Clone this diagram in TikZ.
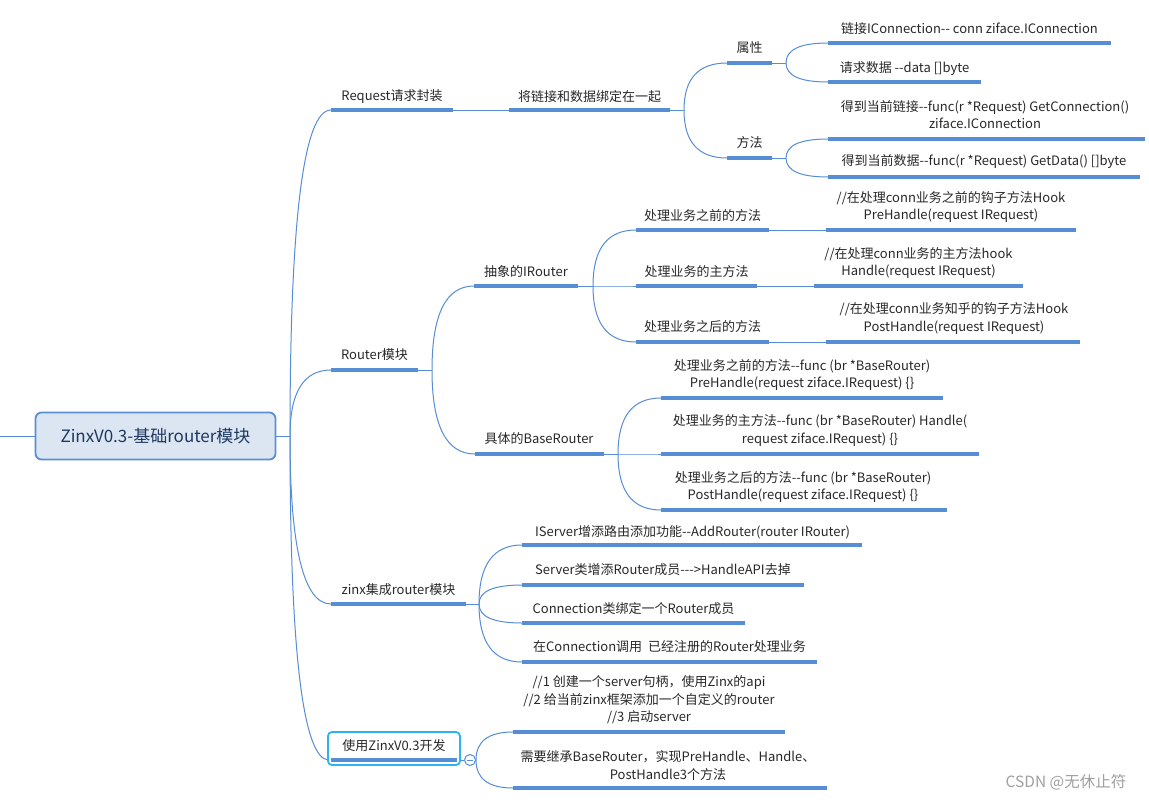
\documentclass[tikz,border=0pt]{standalone}
\usepackage{fontspec}
\setmainfont{Noto Sans CJK SC}
\usetikzlibrary{calc}
\definecolor{ln}{RGB}{86,141,213}
\definecolor{txt}{RGB}{40,40,40}
\definecolor{rootfill}{RGB}{220,230,242}
\definecolor{rootdraw}{RGB}{90,142,212}
\definecolor{roottxt}{RGB}{30,56,96}
\definecolor{selc}{RGB}{45,178,245}
\definecolor{wm}{RGB}{160,160,160}
\begin{document}
\begin{tikzpicture}[x=1pt,y=-1pt,
  ul/.style={line width=3.5pt, draw=ln},
  thinln/.style={line width=1pt, draw=ln},
  curve/.style={thinln, to path={.. controls ($(\tikztostart)!0.6667!(\tikztostart|-\tikztotarget)$) and ($(\tikztotarget)!0.6667!(\tikztostart|-\tikztotarget)$) .. (\tikztotarget)}},
  lab/.style={inner sep=0pt, text=txt, font=\fontsize{13}{17.5}\selectfont, align=center},
]
\fill[white] (0,0) rectangle (1149,801);
\useasboundingbox (0,0) rectangle (1149,801);

% ---------- root ----------
\node[draw=rootdraw, line width=1.8pt, fill=rootfill, rounded corners=6pt,
      minimum width=240pt, minimum height=47pt, text=roottxt,
      font=\fontsize{17}{20}\selectfont] (root) at (155.5,436) {ZinxV0.3-基础router模块};
\coordinate (lft) at (0,436);
\coordinate (b0) at (290,436);
\draw[thinln] (lft) -- (root.west);
\draw[thinln] (root.east) -- (b0);

% ---------- coordinates ----------
% A branch
\coordinate (A1a) at (331,110);  \coordinate (A1b) at (453,110);
\coordinate (A2a) at (509,110);  \coordinate (A2b) at (670,110);
\coordinate (bA) at (684,110);
\coordinate (P1a) at (727,63);   \coordinate (P1b) at (772,63);
\coordinate (P2a) at (727,158);  \coordinate (P2b) at (772,158);
\coordinate (bP1) at (786,63);
\coordinate (bP2) at (786,158);
\coordinate (Q1a) at (828,43);   \coordinate (Q1b) at (1111,43);
\coordinate (Q2a) at (828,82);   \coordinate (Q2b) at (981,82);
\coordinate (Q3a) at (828,139);  \coordinate (Q3b) at (1145,139);
\coordinate (Q4a) at (828,177);  \coordinate (Q4b) at (1140,177);
% B branch
\coordinate (B1a) at (331,370);  \coordinate (B1b) at (418,370);
\coordinate (bB) at (432,370);
\coordinate (R1a) at (474,286);  \coordinate (R1b) at (578,286);
\coordinate (R2a) at (475,454);  \coordinate (R2b) at (604,454);
\coordinate (bR1) at (593,286);
\coordinate (bR2) at (618,454);
\coordinate (S1a) at (636,230);  \coordinate (S1b) at (769,230);
\coordinate (S2a) at (636,286);  \coordinate (S2b) at (757,286);
\coordinate (S3a) at (636,342);  \coordinate (S3b) at (769,342);
\coordinate (T1a) at (826,230);  \coordinate (T1b) at (1076,230);
\coordinate (T2a) at (814,286);  \coordinate (T2b) at (1023,286);
\coordinate (T3a) at (826,342);  \coordinate (T3b) at (1080,342);
\coordinate (U1a) at (661,398);  \coordinate (U1b) at (943,398);
\coordinate (U2a) at (661,454);  \coordinate (U2b) at (979,454);
\coordinate (U3a) at (661,510);  \coordinate (U3b) at (947,510);
% C branch
\coordinate (C1a) at (331,604);  \coordinate (C1b) at (466,604);
\coordinate (bC) at (479,604);
\coordinate (V1a) at (522,545);  \coordinate (V1b) at (862,545);
\coordinate (V2a) at (522,585);  \coordinate (V2b) at (804,585);
\coordinate (V3a) at (522,623);  \coordinate (V3b) at (745,623);
\coordinate (V4a) at (522,662);  \coordinate (V4b) at (817,662);
% D branch
\coordinate (D1a) at (331,760);  \coordinate (D1b) at (457,760);
\coordinate (W1a) at (513,732);  \coordinate (W1b) at (785,732);
\coordinate (W2a) at (513,788);  \coordinate (W2b) at (827,788);

% ---------- root branches ----------
\draw[curve] (b0) to (A1a);
\draw[curve] (b0) to (B1a);
\draw[curve] (b0) to (C1a);
\draw[curve] (b0) to ($(D1a)+(-2,0)$);

% ---------- A: Request ----------
\draw[thinln] (A1b) -- (A2a);
\draw[thinln] (A2b) -- (bA);
\draw[curve] (bA) to (P1a);
\draw[curve] (bA) to (P2a);
\draw[thinln] (P1b) -- (bP1);
\draw[thinln] (P2b) -- (bP2);
\draw[curve] (bP1) to (Q1a);
\draw[curve] (bP1) to (Q2a);
\draw[curve] (bP2) to (Q3a);
\draw[curve] (bP2) to (Q4a);
\foreach \p in {A1,A2,P1,P2,Q1,Q2,Q3,Q4} \draw[ul] (\p a) -- (\p b);

\node[lab] (tA1) at (392,97) {Request请求封装};
\node[lab] (tA2) at (589.5,97) {将链接和数据绑定在一起};
\node[lab] (tP1) at (749.5,48) {属性};
\node[lab] (tP2) at (749.5,143) {方法};
\node[lab] (tQ1) at (969.5,29) {链接IConnection-{}- conn ziface.IConnection};
\node[lab] (tQ2) at (904.5,69) {请求数据 -{}-data []byte};
\node[lab] (tQ3) at (985,114.5) {得到当前链接-{}-func(r *Request) GetConnection()\\ziface.IConnection};
\node[lab] (tQ4) at (984,162) {得到当前数据-{}-func(r *Request) GetData() []byte};

% ---------- B: Router ----------
\draw[thinln] (B1b) -- (bB);
\draw[curve] (bB) to (R1a);
\draw[curve] (bB) to (R2a);
\draw[thinln] (R1b) -- (bR1);
\draw[thinln] (R2b) -- (bR2);
\draw[curve] (bR1) to (S1a);
\draw[curve] (bR1) to (S2a);
\draw[curve] (bR1) to (S3a);
\draw[thinln] (S1b) -- (T1a);
\draw[thinln] (S2b) -- (T2a);
\draw[thinln] (S3b) -- (T3a);
\draw[curve] (bR2) to (U1a);
\draw[curve] (bR2) to (U2a);
\draw[curve] (bR2) to (U3a);
\foreach \p in {B1,R1,R2,S1,S2,S3,T1,T2,T3,U1,U2,U3} \draw[ul] (\p a) -- (\p b);

\node[lab] (tB1) at (374.5,355) {Router模块};
\node[lab] (tR1) at (526,272) {抽象的IRouter};
\node[lab] (tR2) at (539,439) {具体的BaseRouter};
\node[lab] (tS1) at (702.5,216) {处理业务之前的方法};
\node[lab] (tS2) at (696.5,272) {处理业务的主方法};
\node[lab] (tS3) at (702.5,327) {处理业务之后的方法};
\node[lab] (tT1) at (951,207) {//在处理conn业务之前的钩子方法Hook\\PreHandle(request IRequest)};
\node[lab] (tT2) at (918.5,263) {//在处理conn业务的主方法hook\\Handle(request IRequest)};
\node[lab] (tT3) at (954,318.5) {//在处理conn业务知乎的钩子方法Hook\\PostHandle(request IRequest)};
\node[lab] (tU1) at (802,375) {处理业务之前的方法-{}-func (br *BaseRouter)\\PreHandle(request ziface.IRequest) \{\}};
\node[lab] (tU2) at (820,430.5) {处理业务的主方法-{}-func (br *BaseRouter) Handle(\\request ziface.IRequest) \{\}};
\node[lab] (tU3) at (803,487) {处理业务之后的方法-{}-func (br *BaseRouter)\\PostHandle(request ziface.IRequest) \{\}};

% ---------- C: zinx ----------
\draw[thinln] (C1b) -- (bC);
\draw[curve] (bC) to (V1a);
\draw[curve] (bC) to (V2a);
\draw[curve] (bC) to (V3a);
\draw[curve] (bC) to (V4a);
\foreach \p in {C1,V1,V2,V3,V4} \draw[ul] (\p a) -- (\p b);

\node[lab] (tC1) at (398.5,590) {zinx集成router模块};
\node[lab] (tV1) at (692.5,532) {IServer增添路由添加功能-{}-AddRouter(router IRouter)};
\node[lab] (tV2) at (663,570) {Server类增添Router成员-{}-{}-\textgreater HandleAPI去掉};
\node[lab] (tV3) at (633.5,609) {Connection类绑定一个Router成员};
\node[lab] (tV4) at (669.5,647) {在Connection调用\ \ 已经注册的Router处理业务};

% ---------- D: usage ----------
\node[draw=selc, line width=1.8pt, fill=white, rounded corners=4pt,
      minimum width=132pt, minimum height=33pt, inner sep=0pt] (Dbox) at (394,748.5) {};
\draw[ul] (D1a) -- (D1b);
\node[lab] (tD1) at (394,746) {使用ZinxV0.3开发};
\node[circle, draw=ln, fill=white, line width=1pt, minimum size=11pt, inner sep=0pt,
      path picture={\draw[ln, line width=1pt] ([xshift=-3pt]path picture bounding box.center) -- ([xshift=3pt]path picture bounding box.center);}] (col) at (470,760) {};
\draw[thinln] (Dbox.east |- col) -- (col.west);
\draw[curve] (col.east) to (W1a);
\draw[curve] (col.east) to (W2a);
\foreach \p in {W1,W2} \draw[ul] (\p a) -- (\p b);

\node[lab] (tW1) at (649,700) {//1 创建一个server句柄，使用Zinx的api\\//2 给当前zinx框架添加一个自定义的router\\//3 启动server};
\node[lab] (tW2) at (668,765.5) {需要继承BaseRouter，实现PreHandle、Handle、\\PostHandle3个方法};

% ---------- watermark ----------
\node[inner sep=0pt, text=wm, font=\fontsize{15.5}{19}\selectfont] (wm) at (1066,782) {CSDN @无休止符};
\end{tikzpicture}
\end{document}
